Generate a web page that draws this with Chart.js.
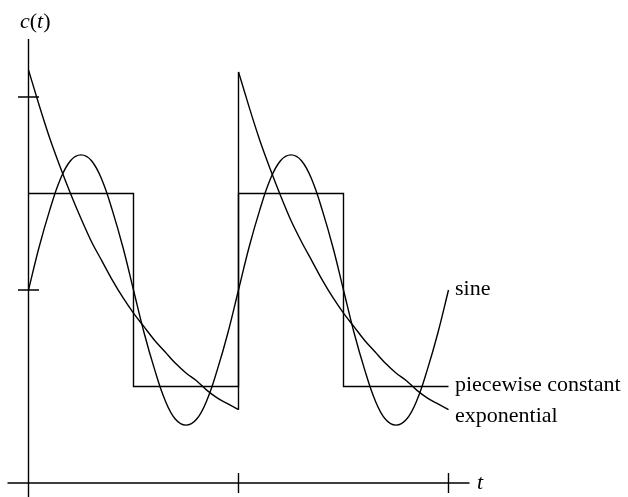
<!DOCTYPE html>
<html lang="en">
<head>
<meta charset="UTF-8">
<title>c(t)</title>
<script src="https://cdn.jsdelivr.net/npm/chart.js"></script>
<style>
  html, body { margin: 0; padding: 0; background: #fff; }
  #wrap { width: 628px; height: 497px; position: relative; }
</style>
</head>
<body>
<div id="wrap"><canvas id="chart"></canvas></div>
<script>
  // two periods, sampled every 0.05
  const tSamples = [0, 0.05, 0.1, 0.15, 0.2, 0.25, 0.3, 0.35, 0.4, 0.45, 0.5, 0.55, 0.6, 0.65, 0.7, 0.75, 0.8, 0.85, 0.9, 0.95,
                    1, 1.05, 1.1, 1.15, 1.2, 1.25, 1.3, 1.35, 1.4, 1.45, 1.5, 1.55, 1.6, 1.65, 1.7, 1.75, 1.8, 1.85, 1.9, 1.95, 2];
  const sineValues = [0, 0.22, 0.41, 0.57, 0.67, 0.70, 0.67, 0.57, 0.41, 0.22, 0, -0.22, -0.41, -0.57, -0.67, -0.70, -0.67, -0.57, -0.41, -0.22,
                      0, 0.22, 0.41, 0.57, 0.67, 0.70, 0.67, 0.57, 0.41, 0.22, 0, -0.22, -0.41, -0.57, -0.67, -0.70, -0.67, -0.57, -0.41, -0.22, 0];

  // exponential decay, one list per period (jump at t = 1)
  const expTimes1 = [0, 0.05, 0.1, 0.15, 0.2, 0.25, 0.3, 0.35, 0.4, 0.45, 0.5, 0.55, 0.6, 0.65, 0.7, 0.75, 0.8, 0.85, 0.9, 0.95, 1];
  const expValues1 = [1.14, 0.96, 0.79, 0.64, 0.50, 0.37, 0.25, 0.15, 0.05, -0.04, -0.12, -0.19, -0.26, -0.32, -0.38, -0.43, -0.47, -0.52, -0.56, -0.59, -0.62];
  const expTimes2 = [1, 1.05, 1.1, 1.15, 1.2, 1.25, 1.3, 1.35, 1.4, 1.45, 1.5, 1.55, 1.6, 1.65, 1.7, 1.75, 1.8, 1.85, 1.9, 1.95, 2];
  const expValues2 = [1.13, 0.95, 0.78, 0.63, 0.49, 0.36, 0.25, 0.15, 0.05, -0.04, -0.12, -0.19, -0.26, -0.32, -0.38, -0.43, -0.47, -0.52, -0.56, -0.59, -0.62];

  const stepTimes = [0, 0.5, 0.5, 1, 1, 1.5, 1.5, 2];
  const stepValues = [0.5, 0.5, -0.5, -0.5, 0.5, 0.5, -0.5, -0.5];

  const seriesNames = ['sine', 'piecewise constant', 'exponential'];
  const xTicks = [0, 1, 2];
  const yTicks = [0, 1];
  const xLabel = 't';

  const toPoints = (xs, ys) => xs.map((v, i) => ({ x: v, y: ys[i] }));
  const serif = '"Liberation Serif", "DejaVu Serif", serif';

  const exp1 = toPoints(expTimes1, expValues1);
  const exp2 = toPoints(expTimes2, expValues2);

  const axesPlugin = {
    id: 'axes',
    afterDatasetsDraw(chart) {
      const { ctx, scales: { x, y } } = chart;
      const x0 = x.getPixelForValue(0);
      const yBase = y.getPixelForValue(-1);
      ctx.save();
      ctx.strokeStyle = '#000';
      ctx.lineWidth = 1.4;
      ctx.beginPath();
      ctx.moveTo(x.getPixelForValue(-0.1), yBase);
      ctx.lineTo(x.getPixelForValue(2.1), yBase);
      ctx.moveTo(x0, y.getPixelForValue(1.3));
      ctx.lineTo(x0, y.bottom);
      xTicks.forEach(v => {
        const p = x.getPixelForValue(v);
        ctx.moveTo(p, yBase - 10);
        ctx.lineTo(p, yBase + 10);
      });
      yTicks.forEach(v => {
        const p = y.getPixelForValue(v);
        ctx.moveTo(x0 - 10.5, p);
        ctx.lineTo(x0 + 10.5, p);
      });
      ctx.stroke();

      ctx.fillStyle = '#000';
      ctx.textBaseline = 'alphabetic';
      ctx.textAlign = 'left';

      // series names at the right end of each named curve
      const nudge = { 'sine': 5, 'piecewise constant': 4, 'exponential': 12.5 };
      ctx.font = '22px ' + serif;
      chart.data.datasets.forEach(ds => {
        if (!ds.named) return;
        const last = ds.data[ds.data.length - 1];
        ctx.fillText(ds.label, x.getPixelForValue(last.x) + 6.5, y.getPixelForValue(last.y) + nudge[ds.label]);
      });

      // axis names
      ctx.font = 'italic 22px ' + serif;
      ctx.fillText(xLabel, x.getPixelForValue(2.1) + 7.5, yBase + 6);

      let cx = x0 - 8.5;
      const cy = y.getPixelForValue(1.3) - 11;
      [['c', true], ['(', false], ['t', true], [')', false]].forEach(([s, it]) => {
        ctx.font = (it ? 'italic ' : '') + '22px ' + serif;
        ctx.fillText(s, cx, cy);
        cx += ctx.measureText(s).width;
      });
      ctx.restore();
    }
  };

  const line = { borderColor: '#000', borderWidth: 1.4, pointRadius: 0, fill: false };

  new Chart(document.getElementById('chart'), {
    type: 'line',
    data: {
      datasets: [
        { ...line, label: seriesNames[0], named: true, data: toPoints(tSamples, sineValues), tension: 0.4 },
        { ...line, label: seriesNames[1], named: true, data: toPoints(stepTimes, stepValues), tension: 0 },
        { ...line, label: 'exp-1', data: exp1, cubicInterpolationMode: 'monotone' },
        { ...line, label: 'exp-jump', data: [exp1[exp1.length - 1], exp2[0]], tension: 0 },
        { ...line, label: seriesNames[2], named: true, data: exp2, cubicInterpolationMode: 'monotone' }
      ]
    },
    options: {
      responsive: true,
      maintainAspectRatio: false,
      animation: false,
      layout: { padding: 0 },
      plugins: { legend: { display: false }, tooltip: { enabled: false } },
      scales: {
        x: { type: 'linear', min: -0.1357, max: 2.8548, display: false },
        y: { type: 'linear', min: -1.0725, max: 1.5026, display: false }
      }
    },
    plugins: [axesPlugin]
  });
</script>
</body>
</html>
